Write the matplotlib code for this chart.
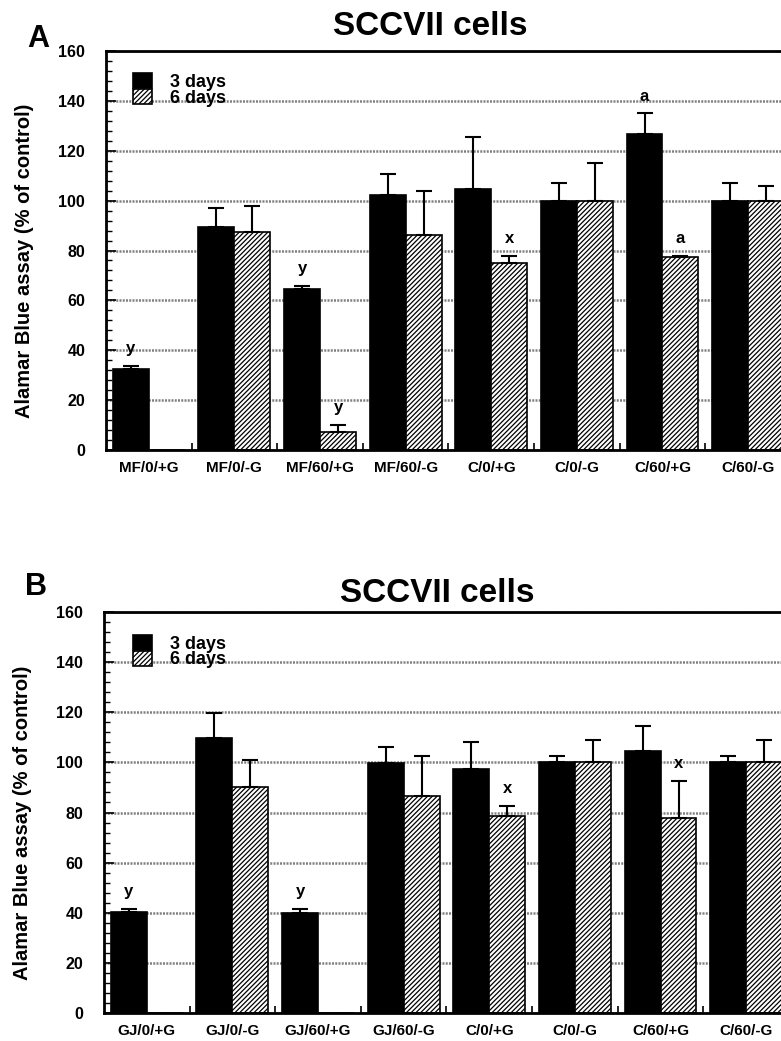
import numpy as np
import matplotlib
matplotlib.use('Agg')
import matplotlib.pyplot as plt
from matplotlib.ticker import MultipleLocator

plt.rcParams['font.family'] = ['Liberation Sans', 'DejaVu Sans']
plt.rcParams['font.weight'] = 'bold'
plt.rcParams['hatch.linewidth'] = 0.9

# Panel A data
cats_a = ['MF/0/+G', 'MF/0/-G', 'MF/60/+G', 'MF/60/-G', 'C/0/+G', 'C/0/-G', 'C/60/+G', 'C/60/-G']
a_3d = [32.4, 89.4, 64.5, 102.4, 104.6, 100, 126.8, 100]
a_3d_err = [1.4, 7.6, 1.3, 8.2, 20.9, 7, 8.2, 7]
a_6d = [0, 87.4, 7.2, 86.2, 75, 100, 77.4, 100]
a_6d_err = [0, 10.6, 2.8, 17.8, 3, 15, 0.6, 6]
# (category, series 0=3 days / 1=6 days, letter)
a_marks = [(0, 0, 'y'), (2, 0, 'y'), (2, 1, 'y'), (4, 1, 'x'), (6, 0, 'a'), (6, 1, 'a')]

# Panel B data
cats_b = ['GJ/0/+G', 'GJ/0/-G', 'GJ/60/+G', 'GJ/60/-G', 'C/0/+G', 'C/0/-G', 'C/60/+G', 'C/60/-G']
b_3d = [40.4, 109.7, 39.9, 99.8, 97.4, 100, 104.6, 100]
b_3d_err = [1.1, 10, 1.6, 6.2, 10.6, 2.5, 10, 2.5]
b_6d = [0, 90.2, 0, 86.5, 78.6, 100, 78, 100]
b_6d_err = [0, 10.8, 0, 16, 4, 9, 14.6, 9]
b_marks = [(0, 0, 'y'), (2, 0, 'y'), (4, 1, 'x'), (6, 1, 'x')]

series_labels = ['3 days', '6 days']

fig = plt.figure(figsize=(7.81, 10.41), dpi=100)
ax_a = fig.add_axes([0.1357, 0.5677, 0.877, 0.3833])
ax_b = fig.add_axes([0.1332, 0.0269, 0.877, 0.3852])


def draw_panel(ax, cats, v3, e3, v6, e6, marks, letter, letter_y, title_x, title_pad, leg_xy):
    x = np.arange(len(cats))
    w = 0.42
    ax.set_axisbelow(True)
    ax.yaxis.grid(True, which='major', color='0.5', linewidth=1.8, linestyle=(0, (0.8, 0.5)))
    b1 = ax.bar(x + 0.29, v3, w, color='black', edgecolor='black', linewidth=1.2, label=series_labels[0])
    b2 = ax.bar(x + 0.71, v6, w, color='white', edgecolor='black', hatch='///////',
                linewidth=1.2, label=series_labels[1])
    for xs, vals, errs in [(x + 0.29, v3, e3), (x + 0.71, v6, e6)]:
        for xi, v, e in zip(xs, vals, errs):
            if e > 0:
                ax.errorbar(xi, v, yerr=[[0], [e]], fmt='none', ecolor='black',
                            elinewidth=1.5, capsize=5.5, capthick=1.5)
    for ci, si, txt in marks:
        top = [v3, v6][si][ci] + [e3, e6][si][ci]
        ax.annotate(txt, (ci + 0.29 + 0.42 * si, top), xytext=(0, 7),
                    textcoords='offset points', ha='center', va='bottom',
                    fontsize=12, fontweight='bold')
    ax.set_xlim(0, len(cats))
    ax.set_ylim(0, 160)
    ax.set_xticks(x + 0.5)
    ax.set_xticklabels(cats, fontsize=11, fontweight='bold')
    ax.set_xticks(np.arange(1, len(cats)), minor=True)
    ax.tick_params(axis='x', which='major', length=0, pad=8)
    ax.tick_params(axis='x', which='minor', direction='in', length=5, width=1.2)
    ax.yaxis.set_major_locator(MultipleLocator(20))
    ax.yaxis.set_minor_locator(MultipleLocator(4))
    ax.tick_params(axis='y', which='major', direction='in', length=7, width=1.2,
                   labelsize=11.5, pad=15)
    ax.tick_params(axis='y', which='minor', direction='in', length=4, width=1.0)
    for lab in ax.get_yticklabels():
        lab.set_fontweight('bold')
    for sp in ax.spines.values():
        sp.set_linewidth(2)
    ax.set_ylabel('Alamar Blue assay (% of control)', fontsize=14.5, fontweight='bold')
    ax.yaxis.set_label_coords(-0.105, 0.475)
    ax.set_title('SCCVII cells', fontsize=24, fontweight='bold', pad=title_pad, x=title_x)
    ax.legend(handles=[b1, b2], loc='upper left', bbox_to_anchor=leg_xy,
              frameon=False, fontsize=13, handlelength=1.05, handleheight=0.9,
              labelspacing=-0.1, handletextpad=1.0, borderpad=0, borderaxespad=0)
    ax.text(-0.115, letter_y, letter, transform=ax.transAxes, fontsize=22, fontweight='bold',
            ha='left', va='baseline')


draw_panel(ax_a, cats_a, a_3d, a_3d_err, a_6d, a_6d_err, a_marks, 'A', 1.01, 0.473, 11.5, (0.039, 0.945))
draw_panel(ax_b, cats_b, b_3d, b_3d_err, b_6d, b_6d_err, b_marks, 'B', 1.042, 0.486, 7, (0.042, 0.943))

plt.savefig('out.png', dpi=100)
